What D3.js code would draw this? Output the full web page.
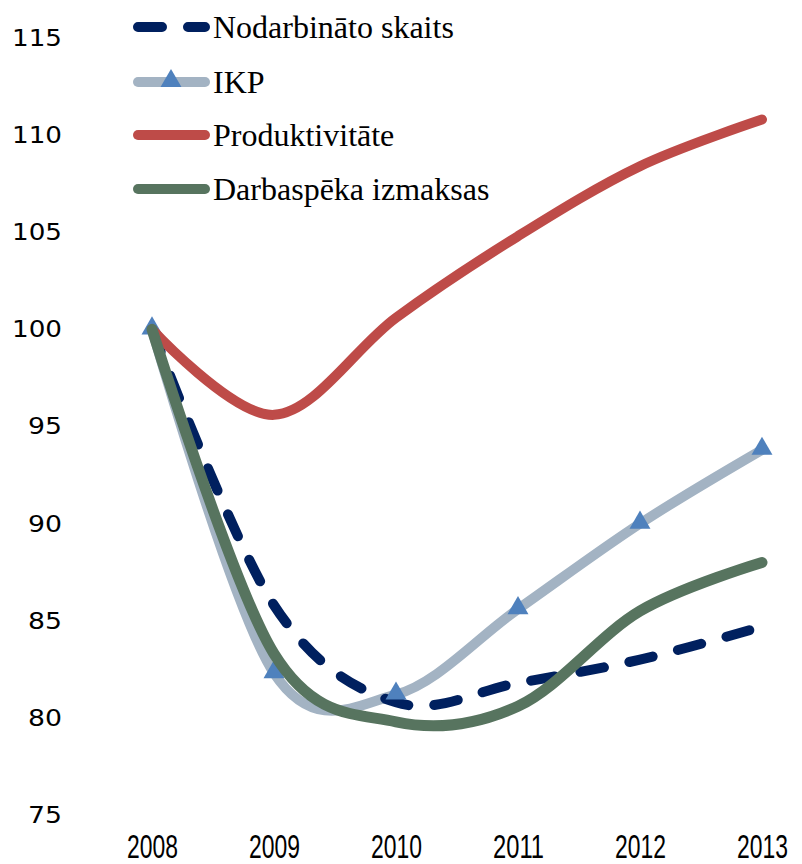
<!DOCTYPE html>
<html>
<head>
<meta charset="utf-8">
<script src="https://cdn.jsdelivr.net/npm/d3@7"></script>
<style>
  body { margin: 0; background: #fff; }
  svg { display: block; }
</style>
</head>
<body>
<svg width="802" height="864"></svg>
<script>
// Data (index, 2008 = 100)
const years = [2008, 2009, 2010, 2011, 2012, 2013];
const nodarbinato = [100, 85.8, 80.8, 81.8, 83.0, 84.7];
const ikp = [100, 82.3, 81.2, 85.6, 90.0, 93.8];
const produktivitate = [100, 95.6, 100.6, 104.8, 108.4, 110.8];
const darbaspeka = [100, 83.3, 79.8, 80.6, 85.5, 88.0];
const yTicks = [75, 80, 85, 90, 95, 100, 105, 110, 115];

const seriesNames = ['Nodarbināto skaits', 'IKP', 'Produktivitāte', 'Darbaspēka izmaksas'];

const svg = d3.select('svg');
const width = 802;
const height = 864;

// scales
const x = d3.scalePoint()
    .domain(years)
    .range([152, 762]);
const y = d3.scaleLinear()
    .domain([75, 115])
    .range([815, 38]);

const line = d3.line()
    .x((d, i) => x(years[i]))
    .y(d => y(d))
    .curve(d3.curveCardinal.tension(0));

// y axis labels (no axis line, no ticks)
const yAxis = svg.append('g')
    .attr('transform', 'translate(62,0)')
    .call(d3.axisLeft(y).tickValues(yTicks).tickSize(0).tickPadding(0));
yAxis.select('.domain').remove();
yAxis.selectAll('text')
    .attr('font-family', 'DejaVu Sans, sans-serif')
    .attr('font-size', 23)
    .attr('fill', '#000')
    .attr('textLength', d => String(d).length === 3 ? 50 : 34)
    .attr('lengthAdjust', 'spacingAndGlyphs');

// x axis labels
const xAxis = svg.append('g')
    .call(d3.axisBottom(x).tickSize(0).tickPadding(0));
xAxis.select('.domain').remove();
xAxis.selectAll('text')
    .attr('font-family', 'Liberation Sans Narrow, Liberation Sans, sans-serif')
    .attr('font-size', 34)
    .attr('y', 858)
    .attr('dy', null)
    .attr('fill', '#000')
    .attr('textLength', 51)
    .attr('lengthAdjust', 'spacingAndGlyphs');

// lines
const plot = svg.append('g');

plot.append('path')
    .attr('d', line(ikp))
    .attr('fill', 'none')
    .attr('stroke', '#A3B3C3')
    .attr('stroke-width', 10)
    .attr('stroke-linecap', 'round');

plot.append('path')
    .attr('d', line(nodarbinato))
    .attr('fill', 'none')
    .attr('stroke', '#00205F')
    .attr('stroke-width', 10)
    .attr('stroke-dasharray', '24,26')
    .attr('stroke-linecap', 'round');

const tri = d3.symbol().type(d3.symbolTriangle).size(190);
plot.selectAll('path.marker')
    .data(ikp)
    .enter().append('path')
    .attr('class', 'marker')
    .attr('d', tri)
    .attr('transform', (d, i) => `translate(${x(years[i])},${y(d) - 1})`)
    .attr('fill', '#4F81BD');

plot.append('path')
    .attr('d', line(produktivitate))
    .attr('fill', 'none')
    .attr('stroke', '#BE4B48')
    .attr('stroke-width', 10)
    .attr('stroke-linecap', 'round');

plot.append('path')
    .attr('d', line(darbaspeka))
    .attr('fill', 'none')
    .attr('stroke', '#57745F')
    .attr('stroke-width', 11)
    .attr('stroke-linecap', 'round');

// legend
const legendRows = [27, 82, 135, 189];
const legendStyles = [
    { stroke: '#00205F', dash: '24,26' },
    { stroke: '#A3B3C3', dash: null, marker: true },
    { stroke: '#BE4B48', dash: null },
    { stroke: '#57745F', dash: null }
];
const legend = svg.append('g');
seriesNames.forEach((name, i) => {
    const g = legend.append('g').attr('transform', `translate(0,${legendRows[i]})`);
    g.append('line')
        .attr('x1', 138).attr('x2', 205)
        .attr('y1', 0).attr('y2', 0)
        .attr('stroke', legendStyles[i].stroke)
        .attr('stroke-width', 10)
        .attr('stroke-linecap', 'round')
        .attr('stroke-dasharray', legendStyles[i].dash);
    if (legendStyles[i].marker) {
        g.append('path')
            .attr('d', tri)
            .attr('transform', 'translate(171,-1)')
            .attr('fill', '#4F81BD');
    }
    g.append('text')
        .attr('x', 213)
        .attr('y', 0)
        .attr('dy', '0.35em')
        .attr('font-family', 'Liberation Serif, Times New Roman, serif')
        .attr('font-size', 32)
        .attr('fill', '#000')
        .text(name);
});
</script>
</body>
</html>
